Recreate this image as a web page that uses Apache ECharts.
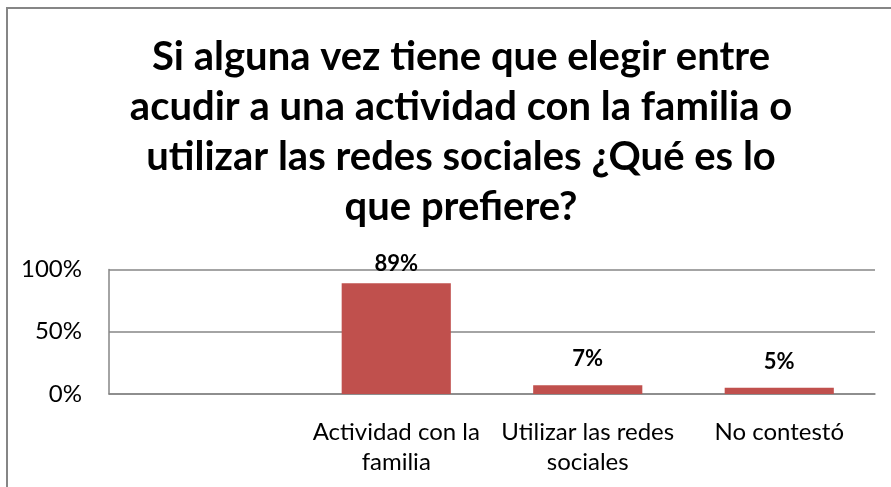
<!DOCTYPE html>
<html>
<head>
<meta charset="utf-8">
<script src="https://cdn.jsdelivr.net/npm/echarts@6/dist/echarts.min.js"></script>
<style>
  html, body { margin: 0; padding: 0; background: #fff; }
  #chart { width: 891px; height: 487px; }
</style>
</head>
<body>
<div id="chart"></div>
<script>
// datos
const titleText = "Si alguna vez tiene que elegir entre\nacudir a una actividad con la familia o\nutilizar las redes sociales ¿Qué es lo\nque prefiere?";
const categories = ["", "Actividad con la\nfamilia", "Utilizar las redes\nsociales", "No contestó"];
const values = ["-", 89, 7, 5];
const yTicks = [0, 50, 100];

// Lato ~ Calibri (Carlito sale de Lato)
const font = "Lato, 'Open Sans', sans-serif";

let chart = echarts.init(document.getElementById("chart"));

let option = {
  animation: false,
  backgroundColor: "#fff",
  title: {
    text: titleText,
    left: 456,
    top: 27,
    textAlign: "center",
    textStyle: {
      fontFamily: font,
      fontWeight: "bold",
      fontSize: 40,
      lineHeight: 50,
      color: "#000"
    }
  },
  grid: {
    left: 109,
    right: 16,
    top: 269.5,
    bottom: 93,
    containLabel: false
  },
  xAxis: {
    type: "category",
    data: categories,
    axisLine: { show: true, lineStyle: { color: "#868686", width: 1.5 } },
    axisTick: { show: false },
    axisLabel: {
      interval: 0,
      margin: 23,
      fontFamily: font,
      fontSize: 24,
      lineHeight: 30,
      color: "#000"
    }
  },
  yAxis: {
    type: "value",
    min: yTicks[0],
    max: yTicks[yTicks.length - 1],
    interval: 50,
    axisLine: { show: true, lineStyle: { color: "#868686", width: 1.5 } },
    axisTick: { show: false },
    splitLine: { show: true, lineStyle: { color: "#868686", width: 1.5 } },
    axisLabel: {
      formatter: "{value}%",
      margin: 27,
      fontFamily: font,
      fontSize: 24,
      color: "#000"
    }
  },
  series: [
    {
      type: "bar",
      data: values.map((v, i) => ({
        value: v,
        label: { distance: i === 1 ? 8 : 15 }
      })),
      barCategoryGap: "43%",
      itemStyle: { color: "#C0504D" },
      label: {
        show: true,
        position: "top",
        formatter: "{c}%",
        fontFamily: font,
        fontWeight: "bold",
        fontSize: 22,
        color: "#000"
      }
    }
  ],
  graphic: [
    {
      type: "rect",
      shape: { x: 7, y: 8, width: 900, height: 500 },
      style: { fill: null, stroke: "#868686", lineWidth: 2 },
      silent: true
    }
  ]
};

chart.setOption(option);
</script>
</body>
</html>
